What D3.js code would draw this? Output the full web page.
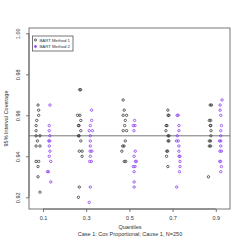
<!DOCTYPE html>
<html>
<head>
<meta charset="utf-8">
<script src="https://cdn.jsdelivr.net/npm/d3@7"></script>
<style>
body{margin:0;background:#fff;}
svg text{font-family:"Liberation Sans",Arial,sans-serif;}
</style>
</head>
<body>
<svg id="chart" width="245" height="245"></svg>
<script>
// ---- data ----
const quantiles = [0.1, 0.3, 0.5, 0.7, 0.9];
const xTickLabels = ["0.1", "0.3", "0.5", "0.7", "0.9"];
const yTicks = [0.92, 0.94, 0.96, 0.98, 1.00];
const yTickLabels = ["0.92", "0.94", "0.96", "0.98", "1.00"];
const seriesNames = ["BART Method 1", "BART Method 2"];
const nominal = 0.95;

// Method 1: [jittered x, coverage]
const method1 = [
  [0.077,0.965],[0.080,0.9625],[0.080,0.96],[0.071,0.9575],[0.068,0.955],[0.068,0.9525],
  [0.068,0.95],[0.086,0.95],[0.074,0.9475],[0.068,0.945],[0.086,0.945],
  [0.068,0.9375],[0.080,0.9375],[0.077,0.935],[0.077,0.93],[0.086,0.9225],
  [0.270,0.9725],[0.274,0.9725],[0.260,0.96],[0.271,0.96],[0.275,0.9575],[0.264,0.955],[0.267,0.955],
  [0.275,0.9525],[0.264,0.95],[0.267,0.95],[0.275,0.9475],[0.268,0.9425],[0.281,0.9425],
  [0.281,0.94],[0.268,0.925],[0.264,0.92],
  [0.471,0.9675],[0.476,0.9625],[0.471,0.96],[0.487,0.96],[0.481,0.9575],[0.478,0.955],
  [0.471,0.9525],[0.487,0.9525],[0.481,0.9475],[0.469,0.945],[0.475,0.945],[0.465,0.9425],
  [0.476,0.9375],[0.483,0.9375],
  [0.678,0.9625],[0.679,0.96],[0.683,0.96],[0.670,0.955],[0.674,0.955],[0.669,0.9525],
  [0.679,0.95],[0.683,0.95],[0.679,0.9475],[0.683,0.9475],[0.673,0.9425],[0.677,0.9425],
  [0.672,0.94],[0.678,0.935],
  [0.874,0.965],[0.880,0.965],[0.870,0.9575],[0.876,0.9575],[0.874,0.955],[0.877,0.955],
  [0.878,0.9525],[0.877,0.95],[0.870,0.9475],[0.876,0.9475],[0.870,0.945],[0.876,0.945],
  [0.866,0.93]
];
// Method 2: [jittered x, coverage]
const method2 = [
  [0.132,0.965],[0.129,0.955],[0.129,0.9525],[0.132,0.95],[0.127,0.9475],[0.131,0.9475],
  [0.129,0.945],[0.132,0.9425],[0.129,0.94],[0.136,0.9375],[0.121,0.9325],[0.125,0.9325],
  [0.136,0.9275],
  [0.325,0.9625],[0.325,0.9575],[0.319,0.955],[0.314,0.9525],[0.329,0.9525],[0.319,0.95],
  [0.319,0.9475],[0.319,0.945],[0.318,0.9425],[0.326,0.9425],[0.319,0.94],[0.316,0.9375],
  [0.324,0.9375],[0.319,0.925],[0.314,0.9175],
  [0.524,0.9575],[0.518,0.955],[0.526,0.955],[0.521,0.9525],[0.527,0.9425],[0.522,0.94],
  [0.528,0.9375],[0.532,0.9375],[0.518,0.935],[0.526,0.935],[0.522,0.9325],[0.522,0.9275],
  [0.522,0.925],
  [0.721,0.96],[0.726,0.96],[0.729,0.955],[0.729,0.9525],[0.722,0.95],[0.718,0.9475],
  [0.726,0.9475],[0.729,0.945],[0.729,0.9425],[0.730,0.94],[0.734,0.94],[0.734,0.9375],
  [0.734,0.935],[0.732,0.9325],[0.719,0.925],
  [0.929,0.9675],[0.920,0.965],[0.920,0.9625],[0.923,0.96],[0.926,0.955],[0.923,0.9525],
  [0.923,0.95],[0.917,0.9475],[0.923,0.9475],[0.923,0.945],[0.919,0.9425],[0.926,0.9425],
  [0.918,0.9375],[0.922,0.9375],[0.926,0.935],[0.923,0.9325]
];

// ---- layout ----
const svg = d3.select("#chart");
const L = 29, R = 230, T = 28, B = 209;
const x = d3.scaleLinear().domain([0.1, 0.9]).range([43, 215.8]);
const y = d3.scaleLinear().domain([0.92, 1.00]).range([197.3, 33.3]);
const boxCol = "#555";
const purple = "#8a3cf0";

// plot box
svg.append("rect").attr("x", L).attr("y", T).attr("width", R - L).attr("height", B - T)
  .attr("fill", "none").attr("stroke", boxCol).attr("stroke-width", 0.8);

// reference line
svg.append("line").attr("x1", L).attr("x2", R).attr("y1", y(nominal)).attr("y2", y(nominal))
  .attr("stroke", boxCol).attr("stroke-width", 0.8);

// y axis
const yAxis = d3.axisLeft(y).tickValues(yTicks).tickFormat((d, i) => yTickLabels[i]).tickSize(3).tickSizeOuter(0);
const gy = svg.append("g").attr("transform", `translate(${L},0)`).call(yAxis);
gy.select(".domain").attr("stroke", boxCol).attr("stroke-width", 0.8)
  .attr("d", `M0,${y(0.92)}V${y(1.0)}`);
gy.selectAll(".tick line").attr("stroke", boxCol).attr("stroke-width", 0.8);
gy.selectAll(".tick text").attr("font-size", 5.5).attr("fill", "#333")
  .attr("text-anchor", "middle").attr("x", null).attr("dy", null)
  .attr("transform", "translate(-9,0) rotate(-90)").attr("y", 0);

// x axis
const xAxis = d3.axisBottom(x).tickValues(quantiles).tickFormat((d, i) => xTickLabels[i]).tickSize(3).tickSizeOuter(0);
const gx = svg.append("g").attr("transform", `translate(0,${B})`).call(xAxis);
gx.select(".domain").attr("stroke", boxCol).attr("stroke-width", 0.8)
  .attr("d", `M${x(0.1)},0H${x(0.9)}`);
gx.selectAll(".tick line").attr("stroke", boxCol).attr("stroke-width", 0.8);
gx.selectAll(".tick text").attr("font-size", 5.5).attr("fill", "#333").attr("y", 9).attr("dy", "0.35em");

// titles
svg.append("text").attr("x", 130).attr("y", 229).attr("text-anchor", "middle")
  .attr("font-size", 5.5).attr("fill", "#333").text("Quantiles");
svg.append("text").attr("x", 130).attr("y", 236).attr("text-anchor", "middle")
  .attr("font-size", 5.5).attr("fill", "#333").text("Case 1: Cox Proportional; Cause 1, N=250");
svg.append("text").attr("transform", `translate(8,${(T + B) / 2}) rotate(-90)`).attr("text-anchor", "middle")
  .attr("font-size", 5.5).attr("fill", "#333").text("95% Interval Coverage");

// points
const gp = svg.append("g");
gp.selectAll("circle.m1").data(method1).join("circle").attr("class", "m1")
  .attr("cx", d => x(d[0])).attr("cy", d => y(d[1])).attr("r", 1.2)
  .attr("fill", "none").attr("stroke", "#222").attr("stroke-width", 0.7);
gp.selectAll("circle.m2").data(method2).join("circle").attr("class", "m2")
  .attr("cx", d => x(d[0])).attr("cy", d => y(d[1])).attr("r", 1.2)
  .attr("fill", "none").attr("stroke", purple).attr("stroke-width", 0.8);

// legend
const lg = svg.append("g");
lg.append("rect").attr("x", 32.5).attr("y", 36).attr("width", 40.5).attr("height", 15)
  .attr("fill", "#fff").attr("stroke", boxCol).attr("stroke-width", 0.8);
const legCols = ["#222", purple];
seriesNames.forEach((n, i) => {
  const yy = 40 + i * 6.5;
  lg.append("circle").attr("cx", 35.5).attr("cy", yy).attr("r", 1.1)
    .attr("fill", i === 1 ? purple : "none").attr("stroke", legCols[i]).attr("stroke-width", 0.7);
  lg.append("text").attr("x", 39.5).attr("y", yy).attr("dy", "0.35em")
    .attr("font-size", 4.3).attr("fill", "#333").text(n);
});
</script>
</body>
</html>
